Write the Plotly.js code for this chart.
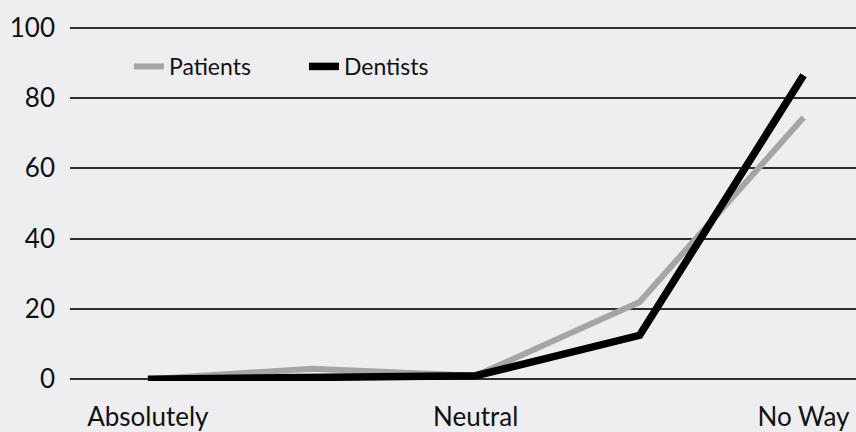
<!DOCTYPE html>
<html><head><meta charset="utf-8">
<script src="https://cdn.plot.ly/plotly-3.0.1.min.js"></script>
<style>body{margin:0;background:#eeeef0}#c{width:856px;height:432px}</style>
</head><body><div id="c"></div>
<script>
const categories = [0, 1, 2, 3, 4];
const tickLabels = ["Absolutely", "", "Neutral", "", "No Way"];
const patients = [0, 3, 1, 22, 74.5];
const dentists = [0, 0.5, 1, 12.5, 86.5];
const yTicks = [0, 20, 40, 60, 80, 100];

const font = "Lato, 'Open Sans', sans-serif";
const data = [
  {x: categories, y: patients, name: "Patients", mode: "lines", type: "scatter",
   line: {color: "#a5a5a5", width: 6}, cliponaxis: false},
  {x: categories, y: dentists, name: "Dentists", mode: "lines", type: "scatter",
   line: {color: "#000000", width: 7.5}, cliponaxis: false}
];
const layout = {
  width: 856, height: 432,
  margin: {l: 70, r: 0, t: 26, b: 51},
  paper_bgcolor: "#eeeef0", plot_bgcolor: "#eeeef0",
  font: {family: font, color: "#111"},
  showlegend: true,
  legend: {orientation: "h", x: 0.075, y: 0.886, xanchor: "left", yanchor: "middle",
           bgcolor: "rgba(0,0,0,0)", font: {size: 23, color: "#111"},
           entrywidth: 130, entrywidthmode: "pixels"},
  xaxis: {range: [-0.475, 4.32], tickvals: categories, ticktext: tickLabels,
          tickfont: {size: 26}, showgrid: false, zeroline: false, showline: false,
          ticks: "", ticklabelstandoff: 18},
  yaxis: {range: [-0.5, 100.5], tickvals: yTicks, tickfont: {size: 26},
          showgrid: true, gridcolor: "#2e2e2e", gridwidth: 1.5,
          zeroline: false, showline: false, ticks: "", ticklabelstandoff: 14}
};
Plotly.newPlot("c", data, layout, {displayModeBar: false});
</script></body></html>
